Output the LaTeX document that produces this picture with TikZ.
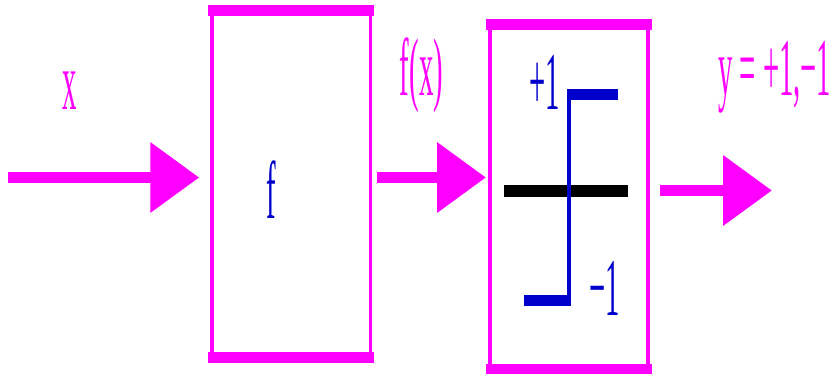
\documentclass[tikz,border=0pt]{standalone}
\usepackage{graphicx}
\usepackage{fontspec}
\setmainfont{Liberation Serif}
\definecolor{mlmagenta}{RGB}{255,0,255}
\definecolor{mlblue}{RGB}{0,0,204}
\usetikzlibrary{arrows.meta,calc}
\newcommand{\cond}[1]{\scalebox{0.35}[1]{#1}}

\begin{document}
\begin{tikzpicture}[x=1pt, y=-1pt,
        blk/.style={rectangle, draw=mlmagenta, inner sep=0pt},
        bar/.style={mlmagenta, line width=11pt},
        flow/.style={-{Triangle[length=49pt,width=68pt]}, line width=11pt, mlmagenta},
        lbl/.style={inner sep=0pt, font=\fontsize{82}{82}\selectfont}
      ]
        \useasboundingbox (0,0) rectangle (834,373);

        % blocks
        \node[blk, line width=3.5pt, minimum width=158.5pt, minimum height=350.5pt] (fbox) at (291,184) {};
        \node[blk, line width=4pt, minimum width=158.3pt, minimum height=348pt] (sbox) at (568.85,197) {};

        \draw[bar] ($(fbox.north west)+(-1.75,3.75)$) -- ($(fbox.north east)+(1.75,3.75)$);
        \draw[bar] ($(fbox.south west)+(-1.75,-3.75)$) -- ($(fbox.south east)+(1.75,-3.75)$);
        \draw[bar] ($(sbox.north west)+(-2,3.5)$) -- ($(sbox.north east)+(2,3.5)$);
        \draw[bar] ($(sbox.south west)+(-2,-3.5)$) -- ($(sbox.south east)+(2,-3.5)$);

        % arrows
        \coordinate (xin)  at (8,177.5);
        \coordinate (yout) at (772,190.5);
        \draw[flow, shorten >=10.75pt] (xin) -- (xin -| fbox.west);
        \draw[flow, shorten <=4.75pt, shorten >=1.7pt] (fbox.east |- xin) -- (sbox.west |- xin);
        \draw[flow, shorten <=10pt] (sbox.east |- yout) -- (yout);

        % sign function
        \draw[black, line width=11.5pt] (504,191) -- (628,191);
        \draw[mlblue, line width=4pt] (569,89) -- (569,306);
        \draw[mlblue, line width=11pt] (567,94.5) -- (618,94.5);
        \draw[mlblue, line width=11pt] (524,300.5) -- (571,300.5);

        \node[lbl, mlmagenta, anchor=base] (xlbl) at (70,109) {\cond{x}};
        \node[lbl, mlblue, anchor=base] (flbl) at (271,218) {\cond{f}};
        \node[lbl, mlmagenta, anchor=base] (fxlbl) at (421.5,95) {\cond{f(x)}};
        \node[lbl, mlblue, anchor=base west] (plus) at (529,109) {\cond{+1}};
        \node[lbl, mlblue, anchor=base west] (minus) at (589,315) {\cond{−1}};
        \node[lbl, mlmagenta, anchor=base west] (ylbl) at (718,95) {\cond{y = +1,−1}};
      \end{tikzpicture}
\end{document}
